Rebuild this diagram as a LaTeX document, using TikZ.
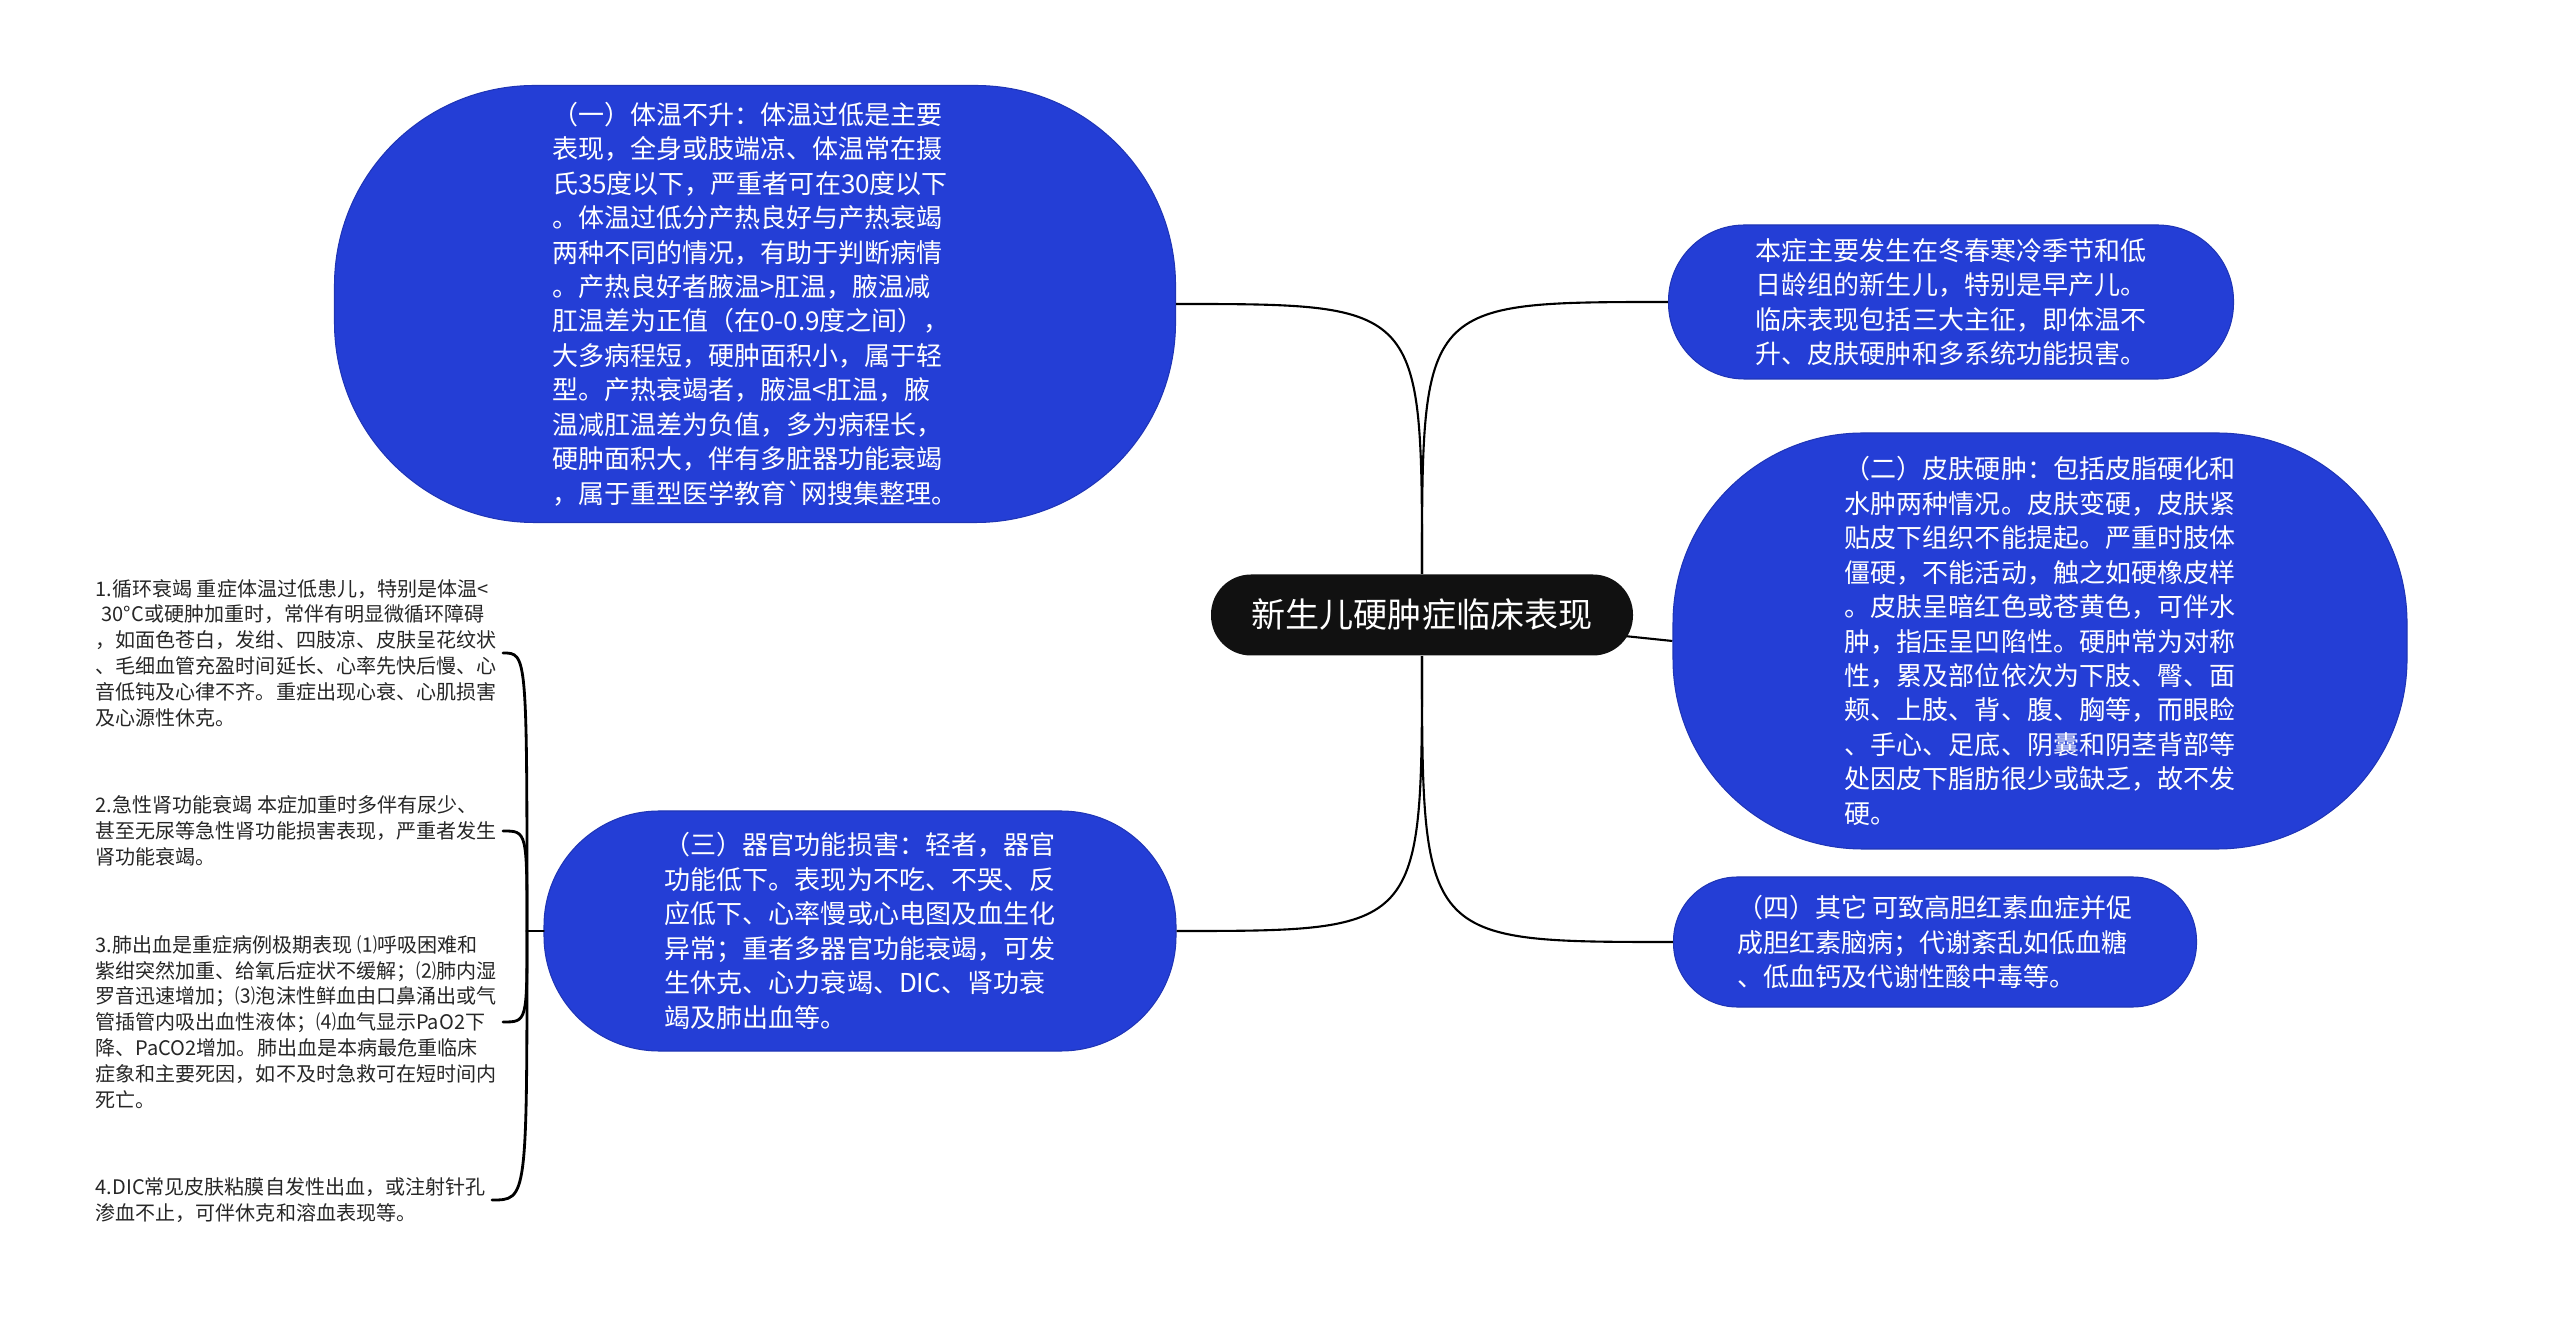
\documentclass[tikz,border=0pt]{standalone}
\usepackage{fontspec}
\usepackage{tikz}
\usepackage{xcolor}
\usetikzlibrary{backgrounds}
\newfontfamily\cjk{Noto Sans CJK SC}
\definecolor{topicblue}{RGB}{36,62,214}
\definecolor{rootblack}{RGB}{17,17,17}

\begin{document}
\begin{tikzpicture}[scale=1.0,
    topic/.style={fill=topicblue, draw=topicblue!85!black, line width=0.3pt, text=white, align=left, inner sep=0pt, font=\cjk\fontsize{7.4}{9.8}\selectfont},
    leaf/.style={anchor=west, align=left, inner sep=0.06cm, text=black!85, font=\cjk\fontsize{5.7}{7.35}\selectfont},
    link/.style={black, line width=0.6pt},
    brace/.style={black, line width=0.8pt, line cap=round}]
    \useasboundingbox (0,0) rectangle (25.6,-13.23);

    % Root
    \node[fill=rootblack, text=white, rounded corners=0.4cm, minimum width=4.22cm, minimum height=0.81cm, font=\cjk\fontsize{9.7}{12}\selectfont] (root) at (14.22,-6.15) {新生儿硬肿症临床表现};

    % Topics on the left
    \node[topic, rounded corners=2cm, minimum width=8.41cm, minimum height=4.37cm] (n1) at (7.55,-3.04) {（一）体温不升：体温过低是主要\\表现，全身或肢端凉、体温常在摄\\氏35度以下，严重者可在30度以下\\。体温过低分产热良好与产热衰竭\\两种不同的情况，有助于判断病情\\。产热良好者腋温>肛温，腋温减\\肛温差为正值（在0-0.9度之间），\\大多病程短，硬肿面积小，属于轻\\型。产热衰竭者，腋温<肛温，腋\\温减肛温差为负值，多为病程长，\\硬肿面积大，伴有多脏器功能衰竭\\，属于重型医学教育\textasciigrave 网搜集整理。};
    \node[topic, rounded corners=1.15cm, minimum width=6.32cm, minimum height=2.4cm] (n3) at (8.6,-9.31) {（三）器官功能损害：轻者，器官\\功能低下。表现为不吃、不哭、反\\应低下、心率慢或心电图及血生化\\异常；重者多器官功能衰竭，可发\\生休克、心力衰竭、DIC、肾功衰\\竭及肺出血等。};

    % Topics on the right
    \node[topic, rounded corners=0.76cm, minimum width=5.65cm, minimum height=1.54cm] (intro) at (19.51,-3.02) {本症主要发生在冬春寒冷季节和低\\日龄组的新生儿，特别是早产儿。\\临床表现包括三大主征，即体温不\\升、皮肤硬肿和多系统功能损害。};
    \node[topic, rounded corners=1.9cm, minimum width=7.34cm, minimum height=4.16cm] (n2) at (20.4,-6.41) {（二）皮肤硬肿：包括皮脂硬化和\\水肿两种情况。皮肤变硬，皮肤紧\\贴皮下组织不能提起。严重时肢体\\僵硬，不能活动，触之如硬橡皮样\\。皮肤呈暗红色或苍黄色，可伴水\\肿，指压呈凹陷性。硬肿常为对称\\性，累及部位依次为下肢、臀、面\\颊、上肢、背、腹、胸等，而眼睑\\、手心、足底、阴囊和阴茎背部等\\处因皮下脂肪很少或缺乏，故不发\\硬。};
    \node[topic, rounded corners=0.64cm, minimum width=5.23cm, minimum height=1.3cm] (n4) at (19.35,-9.42) {（四）其它 可致高胆红素血症并促\\成胆红素脑病；代谢紊乱如低血糖\\、低血钙及代谢性酸中毒等。};

    % Leaves of (三)
    \node[leaf] (l1) at (0.89,-6.53) {1.循环衰竭 重症体温过低患儿，特别是体温<\\\hspace*{0.3em}30°C或硬肿加重时，常伴有明显微循环障碍\\，如面色苍白，发绀、四肢凉、皮肤呈花纹状\\、毛细血管充盈时间延长、心率先快后慢、心\\音低钝及心律不齐。重症出现心衰、心肌损害\\及心源性休克。};
    \node[leaf] (l2) at (0.89,-8.31) {2.急性肾功能衰竭 本症加重时多伴有尿少、\\甚至无尿等急性肾功能损害表现，严重者发生\\肾功能衰竭。};
    \node[leaf] (l3) at (0.89,-10.22) {3.肺出血是重症病例极期表现 ⑴呼吸困难和\\紫绀突然加重、给氧后症状不缓解；⑵肺内湿\\罗音迅速增加；⑶泡沫性鲜血由口鼻涌出或气\\管插管内吸出血性液体；⑷血气显示PaO2下\\降、PaCO2增加。肺出血是本病最危重临床\\症象和主要死因，如不及时急救可在短时间内\\死亡。};
    \node[leaf] (l4) at (0.89,-12.0) {4.DIC常见皮肤粘膜自发性出血，或注射针孔\\渗血不止，可伴休克和溶血表现等。};

    % Curved links from the root
    \draw[link] (root.north) .. controls (root.north |- n1.east) .. (n1.east);
    \draw[link] (root.north) .. controls (root.north |- intro.west) .. (intro.west);
    \draw[link] (root.south) .. controls (root.south |- n3.east) .. (n3.east);
    \draw[link] (root.south) .. controls (root.south |- n4.west) .. (n4.west);
    \begin{pgfonlayer}{background}
        \draw[link] (root.center) -- (n2.west);
    \end{pgfonlayer}

    % Bracket to the leaves
    \coordinate (jn) at (5.27,-9.31);
    \draw[brace] (n3.west) -- (jn);
    \foreach \l in {l1,l2,l3,l4}
        \draw[brace] (jn) .. controls (jn |- \l.east) and (jn |- \l.east) .. (\l.east);
\end{tikzpicture}
\end{document}
